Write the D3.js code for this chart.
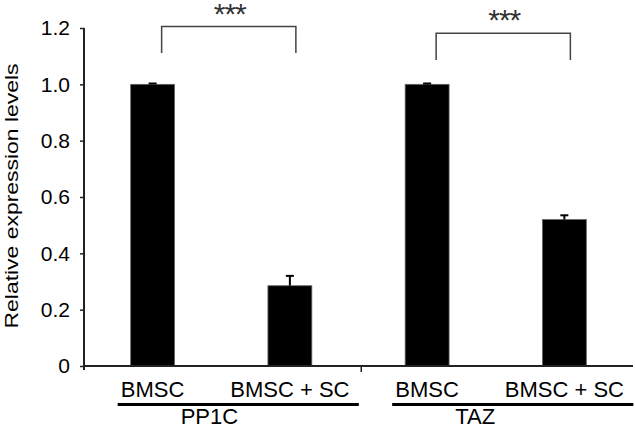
<!DOCTYPE html>
<html>
<head>
<meta charset="utf-8">
<script src="https://cdn.jsdelivr.net/npm/d3@7"></script>
<style>
  body { margin: 0; background: #fff; }
  svg text { font-family: Arial, "Liberation Sans", sans-serif; }
</style>
</head>
<body>
<svg id="chart" width="635" height="428"></svg>
<script>
// data
var groups = ["PP1C", "TAZ"];
var conditions = ["BMSC", "BMSC + SC"];
var values = [1.0, 0.285, 1.0, 0.52];
var errors = [0.003, 0.035, 0.003, 0.015];
var yTicks = [0, 0.2, 0.4, 0.6, 0.8, 1.0, 1.2];
var stars = ["***", "***"];
var bracketTop = [1.205, 1.181];
var bracketFoot = [1.111, 1.086];

var svg = d3.select("#chart"),
    left = 84, right = 633,
    width = 635, height = 428;

// one entry per bar
var bars = [];
groups.forEach(function(g, gi) {
  conditions.forEach(function(c, ci) {
    var i = gi * conditions.length + ci;
    bars.push({key: g + "|" + c, group: g, cond: c, value: values[i], err: errors[i]});
  });
});

var x = d3.scaleBand()
    .domain(bars.map(function(d) { return d.key; }))
    .range([left, right])
    .paddingInner(0.68)
    .paddingOuter(0.34);

var y = d3.scaleLinear()
    .domain([0, 1.2])
    .range([366, 28]);

// y axis
var yAxis = svg.append("g")
    .attr("transform", "translate(" + left + ",0)")
    .call(d3.axisLeft(y)
      .tickValues(yTicks)
      .tickSize(4)
      .tickPadding(10)
      .tickFormat(function(d) { return d === 0 ? "0" : d3.format(".1f")(d); }));
yAxis.select(".domain").remove();
yAxis.selectAll(".tick line").attr("stroke", "#222").attr("stroke-width", 1.5);
yAxis.selectAll(".tick text")
    .attr("fill", "#000")
    .style("font-size", "21px");
yAxis.append("line")
    .attr("y1", y(1.2))
    .attr("y2", y(0) + 4)
    .attr("stroke", "#222")
    .attr("stroke-width", 2);

svg.append("text")
    .attr("transform", "translate(18," + (y(0.6) - 1) + ") rotate(-90)")
    .attr("text-anchor", "middle")
    .attr("textLength", 265)
    .attr("lengthAdjust", "spacingAndGlyphs")
    .style("font-size", "19px")
    .text("Relative expression levels");

// bars
svg.selectAll("rect.bar")
    .data(bars)
  .enter().append("rect")
    .attr("class", "bar")
    .attr("x", function(d) { return x(d.key); })
    .attr("y", function(d) { return y(d.value); })
    .attr("width", x.bandwidth())
    .attr("height", function(d) { return y(0) - y(d.value); })
    .attr("fill", "#000")
    .attr("stroke", "#666")
    .attr("stroke-width", 0.8);

// error bars
var eb = svg.selectAll("g.err")
    .data(bars)
  .enter().append("g")
    .attr("class", "err")
    .attr("transform", function(d) { return "translate(" + (x(d.key) + x.bandwidth() / 2) + ",0)"; });
eb.append("line")
    .attr("y1", function(d) { return y(d.value); })
    .attr("y2", function(d) { return y(d.value + d.err); })
    .attr("stroke", "#000")
    .attr("stroke-width", 2);
eb.append("line")
    .attr("x1", -4).attr("x2", 4)
    .attr("y1", function(d) { return y(d.value + d.err); })
    .attr("y2", function(d) { return y(d.value + d.err); })
    .attr("stroke", "#000")
    .attr("stroke-width", 2);

// x baseline
svg.append("line")
    .attr("x1", left).attr("x2", right)
    .attr("y1", y(0)).attr("y2", y(0))
    .attr("stroke", "#222")
    .attr("stroke-width", 2);

var mid = x(bars[1].key) + x.bandwidth() + x.step() * x.paddingInner() / 2 + x.step() * 0.02;
svg.append("line")
    .attr("x1", mid).attr("x2", mid)
    .attr("y1", y(0)).attr("y2", y(0) + 6)
    .attr("stroke", "#222")
    .attr("stroke-width", 1.5);

// condition labels
svg.selectAll("text.cond")
    .data(bars)
  .enter().append("text")
    .attr("class", "cond")
    .attr("x", function(d) { return x(d.key) + x.bandwidth() / 2; })
    .attr("y", 397)
    .attr("text-anchor", "middle")
    .style("font-size", "22px")
    .text(function(d) { return d.cond; });

// group underline + label
groups.forEach(function(g, gi) {
  var first = bars[gi * 2], last = bars[gi * 2 + 1];
  var x1 = x(first.key) - 13,
      x2 = x(last.key) + x.bandwidth() + 47;
  svg.append("line")
      .attr("x1", x1).attr("x2", x2)
      .attr("y1", 404.5).attr("y2", 404.5)
      .attr("stroke", "#000")
      .attr("stroke-width", 3);
  svg.append("text")
      .attr("x", x1 + 63)
      .attr("y", 424)
      .style("font-size", "22px")
      .text(g);

  // significance bracket
  var bx1 = x(first.key) + x.bandwidth() / 2 + 9,
      bx2 = x(last.key) + x.bandwidth() / 2 + 6;
  svg.append("path")
      .attr("d", "M" + bx1 + "," + y(bracketFoot[gi]) +
                 "V" + y(bracketTop[gi]) +
                 "H" + bx2 +
                 "V" + y(bracketFoot[gi]))
      .attr("fill", "none")
      .attr("stroke", "#444")
      .attr("stroke-width", 1.5);
  svg.append("text")
      .attr("x", (bx1 + bx2) / 2 + 1)
      .attr("y", y(bracketTop[gi]) - 3)
      .attr("text-anchor", "middle")
      .attr("fill", "#333")
      .style("font-size", "30px")
      .style("letter-spacing", "-1px")
      .text(stars[gi]);
});
</script>
</body>
</html>
